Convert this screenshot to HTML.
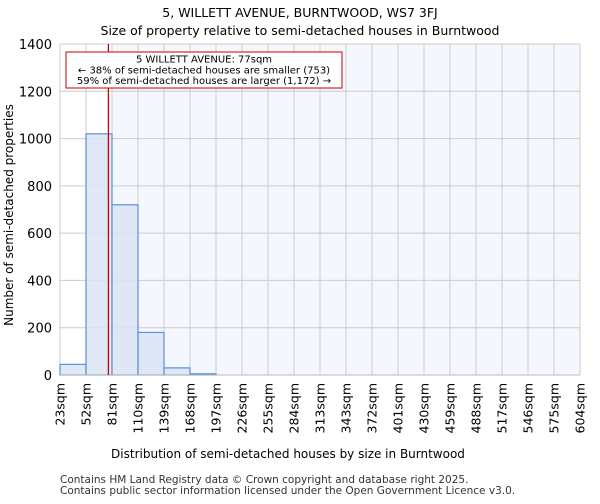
<!DOCTYPE html>
<html><head><meta charset="utf-8"><style>
body{margin:0;background:#fff;font-family:"DejaVu Sans","Liberation Sans",sans-serif}
</style></head><body>
<svg width="600" height="500" xmlns="http://www.w3.org/2000/svg" font-family="DejaVu Sans, Liberation Sans, sans-serif">
<text x="300" y="17" text-anchor="middle" font-size="12.5">5, WILLETT AVENUE, BURNTWOOD, WS7 3FJ</text>
<text x="300" y="35" text-anchor="middle" font-size="12.5">Size of property relative to semi-detached houses in Burntwood</text>
<g id="plot"></g>
<text x="288" y="458" text-anchor="middle" font-size="12">Distribution of semi-detached houses by size in Burntwood</text>
<text transform="translate(13,215) rotate(-90)" text-anchor="middle" font-size="12">Number of semi-detached properties</text>
<text x="60" y="483" font-size="10.5" fill="#333">Contains HM Land Registry data © Crown copyright and database right 2025.</text>
<text x="60" y="494" font-size="10.5" fill="#333">Contains public sector information licensed under the Open Government Licence v3.0.</text>
</svg>
<script>
const categories=["23sqm","52sqm","81sqm","110sqm","139sqm","168sqm","197sqm","226sqm","255sqm","284sqm","313sqm","343sqm","372sqm","401sqm","430sqm","459sqm","488sqm","517sqm","546sqm","575sqm","604sqm"];
const values=[45,1020,720,180,30,5,0,0,0,0,0,0,0,0,0,0,0,0,0,0];
const yTicks=[0,200,400,600,800,1000,1200,1400];
const propertySize=77;
const binStart=23, binWidth=29;
const NS="http://www.w3.org/2000/svg";
const L=60,R=580,T=44,B=375,yMax=1400;
const bw=(R-L)/values.length;
const xs=v=>L+(v-binStart)/binWidth*bw;
const ys=v=>B-v/yMax*(B-T);
const g=document.getElementById('plot');
function el(t,a){const e=document.createElementNS(NS,t);for(const k in a)e.setAttribute(k,a[k]);g.appendChild(e);return e;}
const px=xs(propertySize);
let bg=el('rect',{x:L,y:T,width:R-L,height:B-T,fill:'#fff'});


const hl=el('rect',{x:L+2*bw,y:T,width:R-L-2*bw,height:B-T,fill:'#f4f7fd'});


yTicks.forEach(t=>{const y=ys(t);
 const l=el('line',{x1:L,x2:R,y1:y,y2:y,stroke:'#ccc','stroke-width':1});
 
 
 const tx=el('text',{x:L-8,y:y+5,'text-anchor':'end','font-size':13});tx.textContent=t;
 
 
});
categories.forEach((c,i)=>{const x=L+i*bw;
 const l=el('line',{x1:x,x2:x,y1:T,y2:B,stroke:'#ccc','stroke-width':1});
 
 
 const tx=el('text',{transform:`translate(${x+4.5},383) rotate(-90)`,'text-anchor':'end','font-size':12.5});tx.textContent=c;
 
 
});
values.forEach((v,i)=>{const x=L+i*bw,y=ys(v);
 const r=el('rect',{x:x,y:y,width:bw,height:B-y,fill:'#dae4f4',stroke:'#5b8fd6','stroke-width':1.2,'fill-opacity':0.85});
 
 
});
const ax=el('line',{x1:L,x2:R,y1:B,y2:B,stroke:'#bbb'});


const ml=el('line',{x1:px,x2:px,y1:T,y2:B,stroke:'#cc0000','stroke-width':1.3});


const box=el('rect',{x:66,y:52,width:276,height:36,fill:'#fff',stroke:'#cc0000','stroke-width':1});


["5 WILLETT AVENUE: 77sqm","← 38% of semi-detached houses are smaller (753)","59% of semi-detached houses are larger (1,172) →"].forEach((s,i)=>{
 const t=el('text',{x:204,y:62.5+i*10.8,'text-anchor':'middle','font-size':10});t.textContent=s;
 
 
});
</script>
</body></html>
